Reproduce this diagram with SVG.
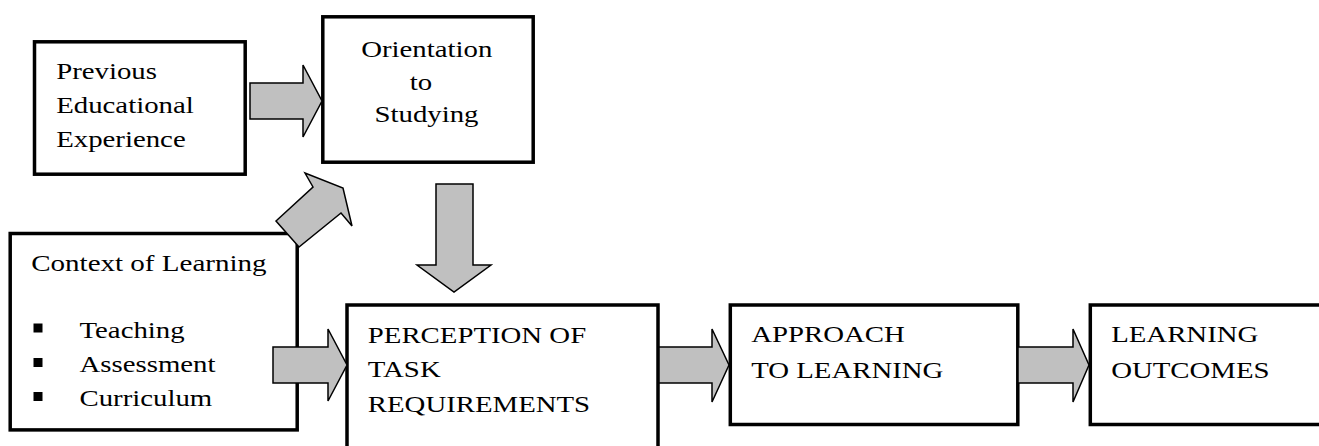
<svg xmlns="http://www.w3.org/2000/svg" width="1319" height="446" viewBox="0 0 1319 446">
<style>
.box{fill:#fff;stroke:#000;stroke-width:3.5}
.arr{fill:#c0c0c0;stroke:#000;stroke-width:1.5;stroke-linejoin:miter}
text{font-family:"Liberation Serif","Times New Roman",serif;font-size:24px;fill:#000}
.bul{fill:#000}
</style>
<rect width="1319" height="446" fill="#fff"/>
<g id="node-previous">
<rect class="box" x="34.5" y="41.8" width="210.7" height="132.4"/>
<g transform="translate(56.2,0) scale(1.2,1)">
<text x="0" y="79">Previous</text>
<text x="0" y="113">Educational</text>
<text x="0" y="147">Experience</text>
</g>
</g>
<g id="node-orientation">
<rect class="box" x="322.8" y="16.8" width="210.4" height="145.4"/>
<text transform="translate(361.2,56.7) scale(1.2,1)">Orientation</text>
<text transform="translate(409.8,89.5) scale(1.2,1)">to</text>
<text transform="translate(374.5,122) scale(1.2,1)">Studying</text>
</g>
<g id="node-context">
<rect class="box" x="10.2" y="233.5" width="287" height="196.4"/>
<text transform="translate(31.2,271) scale(1.21,1)">Context of Learning</text>
<rect class="bul" x="33.5" y="323.5" width="9" height="9"/>
<rect class="bul" x="33.5" y="358" width="9" height="9"/>
<rect class="bul" x="33.5" y="392" width="9" height="9"/>
<g transform="translate(79.5,0) scale(1.2,1)">
<text x="0" y="338.3">Teaching</text>
<text x="0" y="372.3">Assessment</text>
<text x="0" y="405.7">Curriculum</text>
</g>
</g>
<g id="node-perception">
<rect class="box" x="347" y="305" width="311" height="150"/>
<g transform="translate(367.8,0) scale(1.2,1)">
<text x="0" y="343.3">PERCEPTION OF</text>
<text x="0" y="376.7">TASK</text>
<text x="0" y="411.7">REQUIREMENTS</text>
</g>
</g>
<g id="node-approach">
<rect class="box" x="730.3" y="305" width="287.5" height="119.5"/>
<g transform="translate(751.2,0) scale(1.2,1)">
<text x="0" y="342.3">APPROACH</text>
<text x="0" y="377.7">TO LEARNING</text>
</g>
</g>
<g id="node-outcomes">
<rect class="box" x="1090.3" y="305" width="250" height="119.5"/>
<g transform="translate(1111.2,0) scale(1.2,1)">
<text x="0" y="342">LEARNING</text>
<text x="0" y="377.7">OUTCOMES</text>
</g>
</g>
<g id="connectors">
<polygon class="arr" points="250,83 303,83 303,65 322,101 303,137 303,119 250,119"/>
<polygon class="arr" points="276,221 313,187 305,173 343,188 352,226 341,213 299,247"/>
<polygon class="arr" points="436,184 473,184 473,265 491,265 454,292 417,265 436,265"/>
<polygon class="arr" points="273,347 328,347 328,329 347,365 328,401 328,383 273,383"/>
<polygon class="arr" points="659,347 712,347 712,329 729,365 712,402 712,383 659,383"/>
<polygon class="arr" points="1018,347 1073,347 1073,329 1089,365 1073,402 1073,383 1018,383"/>
</g>
</svg>
